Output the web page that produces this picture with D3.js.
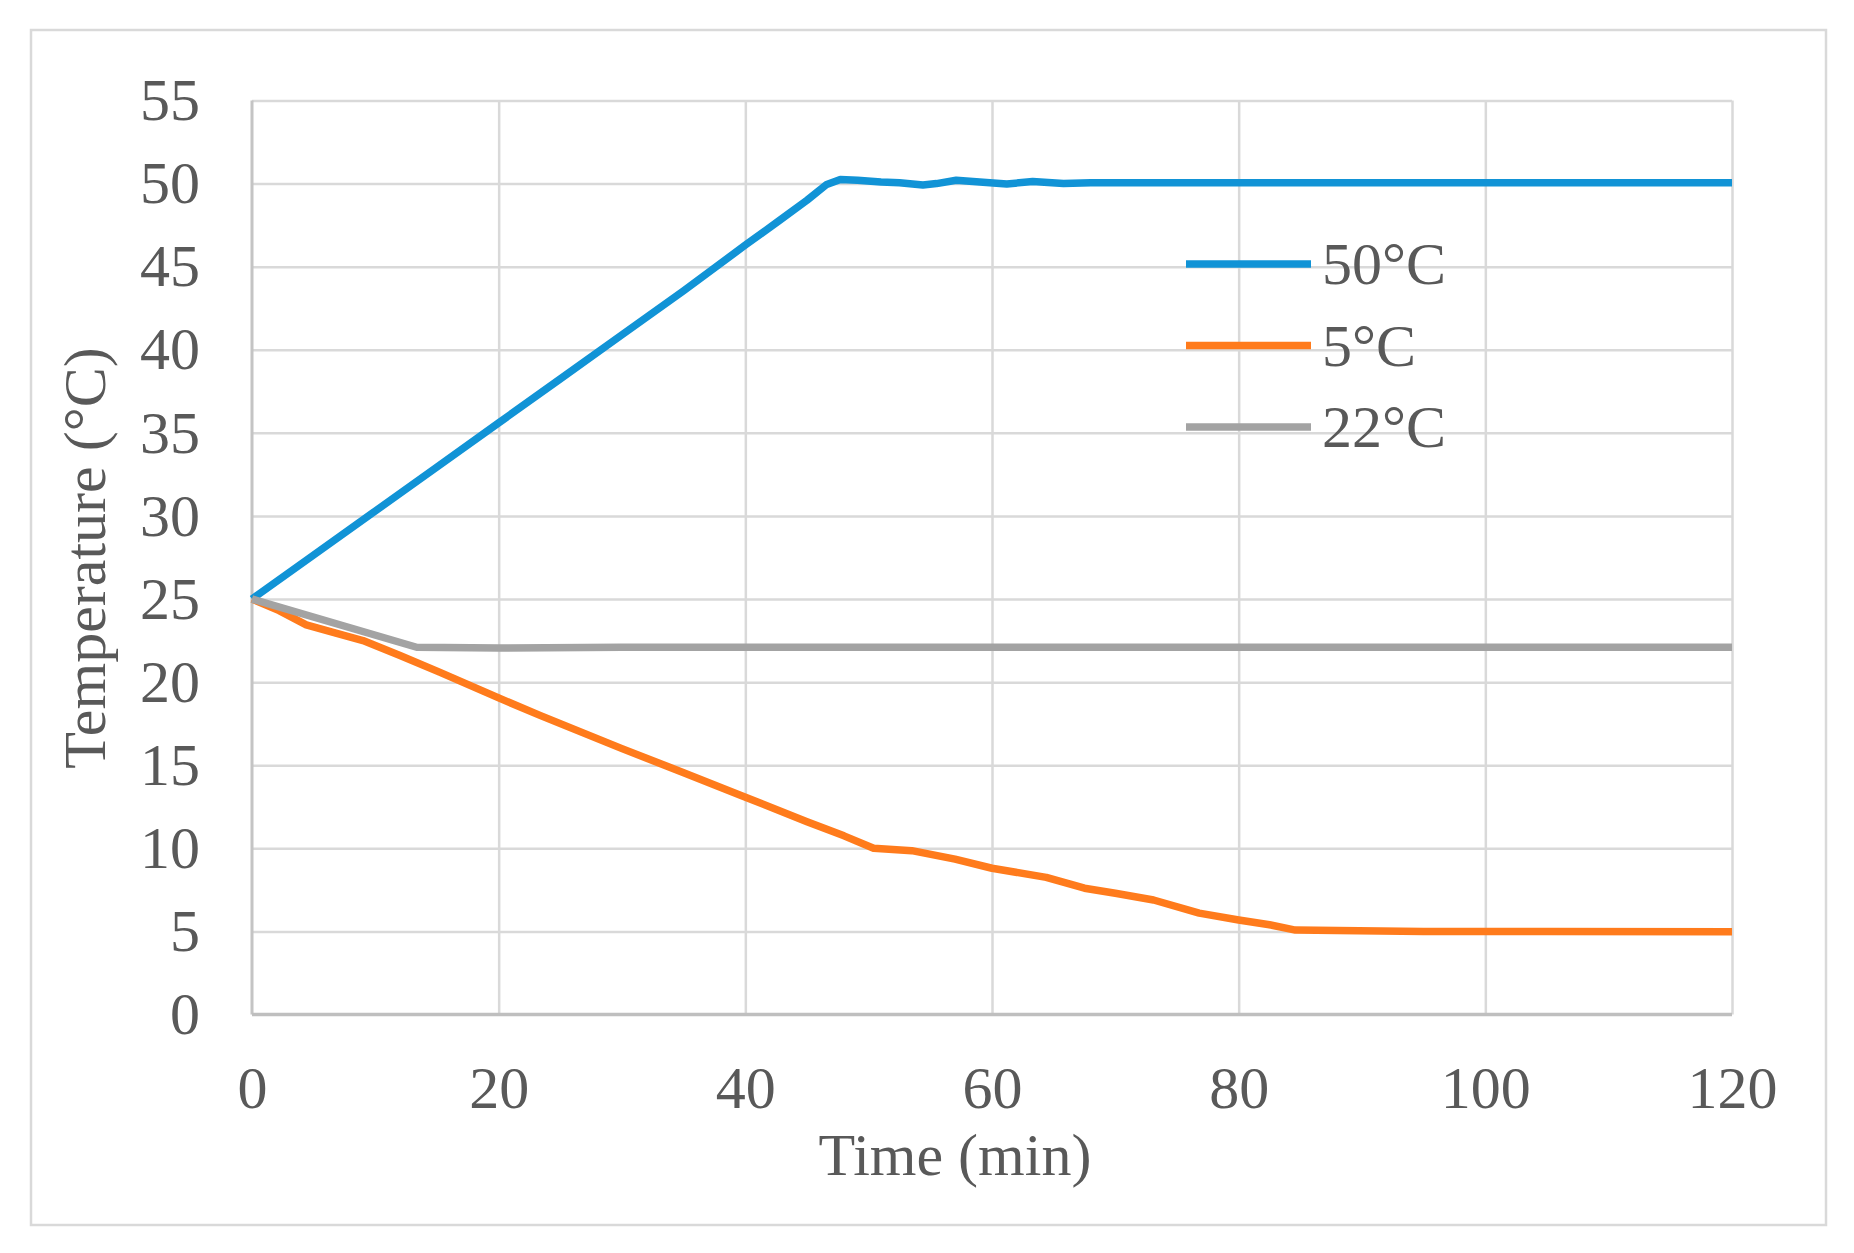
<!DOCTYPE html>
<meta charset="utf-8">
<style>
html, body {
    margin: 0;
    background: #fff;
}

svg text {
    font-family: "Liberation Serif", "Times New Roman", serif;
    fill: #595959;
}
</style>
<body>
    <svg id="chart" width="1854" height="1253"></svg>
</body>
<script src="https://cdn.jsdelivr.net/npm/d3@7"></script>
<script>
    // [time (min), temperature (°C)]
    var series50 = [
        [0, 25], [5, 27.65], [10, 30.3], [15, 32.95], [20, 35.6], [25, 38.25],
        [30, 40.9], [35, 43.55], [40, 46.3], [42.8, 47.8], [45, 49.0], [46.6, 49.95],
        [47.7, 50.25], [49.1, 50.2], [51, 50.1], [52.5, 50.05], [54.4, 49.92], [55.5, 50.0],
        [57.1, 50.2], [59, 50.1], [61.2, 49.98], [63.3, 50.12], [65.8, 50.0], [68, 50.05],
        [72, 50.05], [80, 50.05], [90, 50.05], [100, 50.05], [110, 50.05], [120, 50.05]
    ];

    var series5 = [
        [0, 25], [2.2, 24.3], [4.4, 23.45], [6.8, 22.95], [9, 22.5], [12, 21.6],
        [15.2, 20.6], [20, 19.05], [23.35, 18.0], [30, 16.0], [35, 14.55], [39.6, 13.2],
        [45, 11.6], [48, 10.75], [50.4, 10.0], [53.5, 9.86], [57, 9.35], [60, 8.8],
        [64.4, 8.25], [67.5, 7.6], [70, 7.3], [73.1, 6.89], [76.8, 6.1], [80, 5.69],
        [82.5, 5.4], [84.6, 5.08], [88, 5.05], [95, 5.0], [105, 5.0], [120, 4.98]
    ];

    var series22 = [
        [0, 25], [13.35, 22.1], [20, 22.05], [30, 22.1], [40, 22.1], [60, 22.1],
        [80, 22.1], [100, 22.1], [120, 22.1]
    ];

    var seriesNames = ["50°C", "5°C", "22°C"];
    var seriesColors = ["#1193d6", "#ff7b1c", "#a3a3a3"];
    var xTicks = [0, 20, 40, 60, 80, 100, 120];
    var yTicks = [0, 5, 10, 15, 20, 25, 30, 35, 40, 45, 50, 55];

    var svg = d3.select("#chart");

    var plotLeft = 252, plotRight = 1732, plotTop = 100.5, plotBottom = 1014.5;

    var x = d3.scaleLinear().domain([0, 120]).range([plotLeft, plotRight]);
    var y = d3.scaleLinear().domain([0, 55]).range([plotBottom, plotTop]);

    // chart border
    svg.append("rect")
        .attr("x", 31).attr("y", 30)
        .attr("width", 1795).attr("height", 1195)
        .attr("fill", "none")
        .attr("stroke", "#d9d9d9")
        .attr("stroke-width", 2.5);

    // gridlines
    var gridY = svg.append("g")
        .attr("transform", "translate(" + plotLeft + ",0)")
        .call(d3.axisLeft(y).tickValues(yTicks.slice(1)).tickSize(-(plotRight - plotLeft)).tickFormat(""));
    var gridX = svg.append("g")
        .attr("transform", "translate(0," + plotBottom + ")")
        .call(d3.axisBottom(x).tickValues(xTicks.slice(1)).tickSize(-(plotBottom - plotTop)).tickFormat(""));
    [gridX, gridY].forEach(function(g) {
        g.select(".domain").remove();
        g.selectAll("line").attr("stroke", "#d9d9d9").attr("stroke-width", 2.5);
    });

    // axis lines
    svg.append("line")
        .attr("x1", plotLeft).attr("x2", plotLeft).attr("y1", plotTop).attr("y2", plotBottom)
        .attr("stroke", "#c4c4c4").attr("stroke-width", 3);
    svg.append("line")
        .attr("x1", plotLeft).attr("x2", plotRight).attr("y1", plotBottom).attr("y2", plotBottom)
        .attr("stroke", "#bfbfbf").attr("stroke-width", 3.5);

    // tick labels
    var yAxis = svg.append("g")
        .attr("transform", "translate(" + plotLeft + ",0)")
        .call(d3.axisLeft(y).tickValues(yTicks).tickSize(0).tickPadding(52));
    var xAxis = svg.append("g")
        .attr("transform", "translate(0," + plotBottom + ")")
        .call(d3.axisBottom(x).tickValues(xTicks).tickSize(0).tickPadding(51));
    [xAxis, yAxis].forEach(function(g) {
        g.select(".domain").remove();
        g.selectAll("text")
            .style("font-family", "'Liberation Serif', 'Times New Roman', serif")
            .style("font-size", "60px")
            .attr("fill", "#595959");
    });

    // axis titles
    svg.append("text")
        .attr("x", 955).attr("y", 1175)
        .attr("text-anchor", "middle")
        .style("font-size", "60px")
        .text("Time (min)");
    svg.append("text")
        .attr("transform", "translate(105,558) rotate(-90)")
        .attr("text-anchor", "middle")
        .style("font-size", "60px")
        .text("Temperature (°C)");

    // series
    var line = d3.line()
        .x(function(d) { return x(d[0]); })
        .y(function(d) { return y(d[1]); });

    svg.selectAll("path.series")
        .data([series50, series5, series22])
        .enter()
        .append("path")
        .attr("class", "series")
        .attr("d", line)
        .attr("fill", "none")
        .attr("stroke", function(d, i) { return seriesColors[i]; })
        .attr("stroke-width", 7.5)
        .attr("stroke-linejoin", "round");

    // legend
    var legend = svg.selectAll("g.legend")
        .data(seriesNames)
        .enter()
        .append("g")
        .attr("class", "legend")
        .attr("transform", function(d, i) { return "translate(1186," + (264 + i * 81.5) + ")"; });

    legend.append("line")
        .attr("x1", 0).attr("x2", 125)
        .attr("stroke", function(d, i) { return seriesColors[i]; })
        .attr("stroke-width", 7.5);

    legend.append("text")
        .attr("x", 136).attr("y", 20)
        .style("font-size", "60px")
        .text(function(d) { return d; });
</script>
